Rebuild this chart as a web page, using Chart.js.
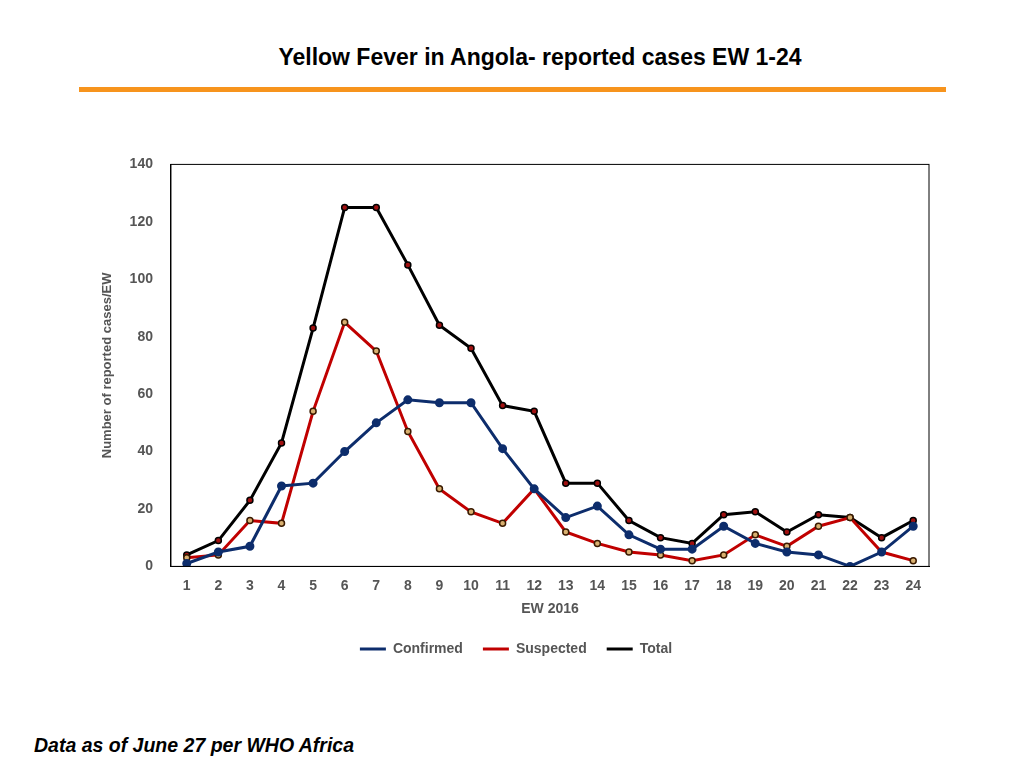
<!DOCTYPE html>
<html><head><meta charset="utf-8">
<script src="https://cdn.jsdelivr.net/npm/chart.js@4"></script>
<style>
body{margin:0;width:1024px;height:768px;background:#fff;font-family:"Liberation Sans",Arial,sans-serif;position:relative;overflow:hidden}
#title{position:absolute;top:44px;left:0;width:1080px;text-align:center;font-weight:bold;font-size:23px;color:#000}
#rule{position:absolute;top:87px;left:79px;width:867px;height:5px;background:#f7941d}
#wrap{position:absolute;left:96px;top:146px;width:840px;height:520px}
#foot{position:absolute;left:34px;top:734px;font-weight:bold;font-style:italic;font-size:19.5px}
</style></head><body>
<div id="title">Yellow Fever in Angola- reported cases EW 1-24</div>
<div id="rule"></div>
<div id="wrap"><canvas id="c"></canvas></div>
<div id="foot">Data as of June 27 per WHO Africa</div>
<script>
const weeks = ['1','2','3','4','5','6','7','8','9','10','11','12','13','14','15','16','17','18','19','20','21','22','23','24'];
const confirmed = [1,5,7,28,29,40,50,58,57,57,41,27,17,21,11,6,6,14,8,5,4,0,5,14];
const suspected = [3,4,16,15,54,85,75,47,27,19,15,27,12,8,5,4,2,4,11,7,14,17,5,2];
const total = [4,9,23,43,83,125,125,105,84,76,56,54,29,29,16,10,8,18,19,12,18,17,10,16];

const boxPlugin = {
  id: 'box',
  afterDraw(chart) {
    const a = chart.chartArea, g = chart.ctx;
    g.save(); g.strokeStyle = '#000'; g.lineWidth = 1;
    g.strokeRect(a.left, a.top, a.right - a.left, a.bottom - a.top);
    g.restore();
  }
};
const font = {size: 14, weight: 'bold', family: 'Liberation Sans'};

new Chart(document.getElementById('c'), {
  type: 'line',
  data: {
    labels: weeks,
    datasets: [
      {label: 'Confirmed', data: confirmed, borderColor: '#0d2d6c', backgroundColor: '#0d2d6c',
       pointBackgroundColor: '#0d2d6c', pointBorderColor: '#0d2d6c', borderWidth: 3, pointRadius: 3},
      {label: 'Suspected', data: suspected, borderColor: '#c00000', backgroundColor: '#c8a060',
       pointBackgroundColor: '#d8b070', pointBorderColor: '#3a1a00', pointBorderWidth: 1.5, borderWidth: 3, pointRadius: 3},
      {label: 'Total', data: total, borderColor: '#000', backgroundColor: '#a01010',
       pointBackgroundColor: '#a01010', pointBorderColor: '#000', pointBorderWidth: 1.5, borderWidth: 3, pointRadius: 3}
    ]
  },
  options: {
    responsive: true, maintainAspectRatio: false, animation: false,
    plugins: {
      legend: {position: 'bottom', labels: {boxWidth: 26, boxHeight: 3, color: '#555', font: font, padding: 20,
        generateLabels(chart) {
          return chart.data.datasets.map((d, i) => ({text: d.label, fillStyle: d.borderColor, strokeStyle: d.borderColor,
            lineWidth: 0, fontColor: '#555', datasetIndex: i, hidden: false}));
        }}},
      tooltip: {enabled: false}
    },
    scales: {
      x: {offset: true, grid: {display: false}, border: {color: '#000'},
          title: {display: true, text: 'EW 2016', color: '#555', font: font},
          ticks: {color: '#555', font: font}},
      y: {min: 0, max: 140, grid: {display: false}, border: {color: '#000'},
          title: {display: true, text: 'Number of reported cases/EW', color: '#555', font: {size: 13, weight: 'bold', family: 'Liberation Sans'}},
          ticks: {stepSize: 20, color: '#555', font: font, padding: 10}}
    }
  },
  plugins: [boxPlugin]
});
</script>
</body></html>
